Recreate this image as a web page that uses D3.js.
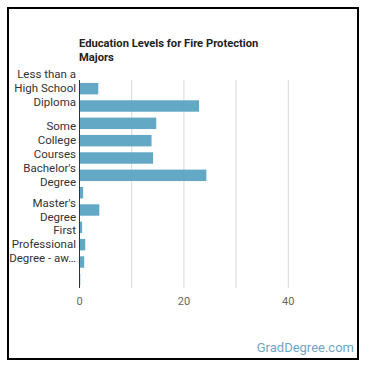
<!DOCTYPE html>
<html>
<head>
<meta charset="utf-8">
<script src="https://cdn.jsdelivr.net/npm/d3@7"></script>
<style>
  html, body { margin: 0; padding: 0; background: #fff; }
  svg { display: block; font-family: Roboto, "Open Sans", sans-serif; }
</style>
</head>
<body>
<div id="chart"></div>
<script>
const WIDTH = 370;
const HEIGHT = 370;

// Education level categories (full names, wrapped and thinned on the axis)
const CATEGORIES = [
  "Less than a High School Diploma",
  "High School Diploma - or the equivalent (for example, GED)",
  "Post-Secondary Certificate - awarded for training completed after high school",
  "Some College Courses",
  "Associate's Degree (or other 2-year degree)",
  "Bachelor's Degree",
  "Post-Baccalaureate Certificate - awarded for completion of an organized program of study",
  "Master's Degree",
  "Post-Master's Certificate - awarded for completion of an organized program of study",
  "First Professional Degree - awarded for completion of a program",
  "Doctoral Degree",
  "Post-Doctoral Training",
];
// Percent of workers
const VALUES = [3.6, 22.9, 14.7, 13.8, 14.1, 24.3, 0.7, 3.8, 0.5, 1.1, 0.9, 0.15];

const X_MAX = 50;
const GRID_TICKS = [10, 20, 30, 40];
const LABEL_TICKS = [0, 20, 40];

const TITLE_LINES = ["Education Levels for Fire Protection", "Majors"];
const WATERMARK = "GradDegree.com";

const plot = { left: 79.5, right: 340.5, top: 80, bottom: 288 };

const svg = d3
  .select("#chart")
  .append("svg")
  .attr("width", WIDTH)
  .attr("height", HEIGHT);

// frame
svg
  .append("rect")
  .attr("x", 8)
  .attr("y", 8)
  .attr("width", 350)
  .attr("height", 351)
  .attr("fill", "#fff")
  .attr("stroke", "#000")
  .attr("stroke-width", 2);

const x = d3.scaleLinear().domain([0, X_MAX]).range([plot.left, plot.right]);
const y = d3
  .scaleBand()
  .domain(CATEGORIES)
  .range([plot.top, plot.bottom])
  .paddingInner(0.34)
  .paddingOuter(0.17);

// title
svg
  .append("text")
  .attr("x", 79)
  .attr("y", 47)
  .style("font-size", "11.2px")
  .style("font-weight", "700")
  .style("fill", "#222")
  .selectAll("tspan")
  .data(TITLE_LINES)
  .join("tspan")
  .attr("x", 79)
  .attr("dy", (d, i) => (i ? 14 : 0))
  .text((d) => d);

// gridlines
svg
  .append("g")
  .selectAll("line")
  .data(GRID_TICKS)
  .join("line")
  .attr("x1", (d) => x(d))
  .attr("x2", (d) => x(d))
  .attr("y1", plot.top)
  .attr("y2", plot.bottom)
  .attr("stroke", "#d8d8d8")
  .attr("stroke-width", 1);

// bars
svg
  .append("g")
  .selectAll("rect")
  .data(VALUES)
  .join("rect")
  .attr("x", x(0))
  .attr("y", (d, i) => y(CATEGORIES[i]))
  .attr("width", (d) => x(d) - x(0))
  .attr("height", y.bandwidth())
  .attr("fill", "#5ba3c1")
  .attr("fill-opacity", 0.95);

// y axis line
svg
  .append("line")
  .attr("x1", x(0))
  .attr("x2", x(0))
  .attr("y1", plot.top)
  .attr("y2", plot.bottom)
  .attr("stroke", "#333")
  .attr("stroke-width", 1);

// x tick labels
svg
  .append("g")
  .selectAll("text")
  .data(LABEL_TICKS)
  .join("text")
  .attr("x", (d) => x(d))
  .attr("y", 305)
  .attr("text-anchor", "middle")
  .style("font-size", "11px")
  .style("fill", "#666")
  .text((d) => d);

// y category labels: wrap, ellipsize, then hide overlapping ones
const LABEL_W = 67;
const LINE_H = 14;
const MAX_LINES = 3;
const labelG = svg.append("g").style("font-size", "11.5px").style("fill", "#333");
const probe = labelG.append("text");
const measure = (s) => probe.text(s).node().getComputedTextLength();

function wrapLabel(name) {
  const words = name.split(" ");
  const lines = [];
  let cur = "";
  for (const w of words) {
    const next = cur ? cur + " " + w : w;
    if (!cur || measure(next) <= LABEL_W) cur = next;
    else {
      lines.push(cur);
      cur = w;
    }
  }
  if (cur) lines.push(cur);
  if (lines.length > MAX_LINES) {
    let last = lines.slice(MAX_LINES - 1).join(" ");
    while (last.length > 1 && measure(last + "…") > LABEL_W) last = last.slice(0, -1);
    lines.length = MAX_LINES - 1;
    lines.push(last.trimEnd() + "…");
  }
  return lines;
}

let lastBottom = -Infinity;
CATEGORIES.forEach((name) => {
  const lines = wrapLabel(name);
  const cy = y(name) + y.bandwidth() / 2;
  const top = cy - (lines.length * LINE_H) / 2;
  const bottom = cy + (lines.length * LINE_H) / 2;
  // skip if it collides with the previous label or the x axis labels
  if (top < lastBottom - 1 || bottom > 292) return;
  lastBottom = bottom;
  labelG
    .append("text")
    .attr("text-anchor", "end")
    .selectAll("tspan")
    .data(lines)
    .join("tspan")
    .attr("x", 76)
    .attr("y", (d, i) => top + LINE_H * i + 10.5)
    .text((d) => d);
});
probe.remove();

// watermark
svg
  .append("text")
  .attr("x", 354)
  .attr("y", 352)
  .attr("text-anchor", "end")
  .style("font-size", "13px")
  .style("fill", "#6fa6c2")
  .text(WATERMARK);
</script>
</body>
</html>
